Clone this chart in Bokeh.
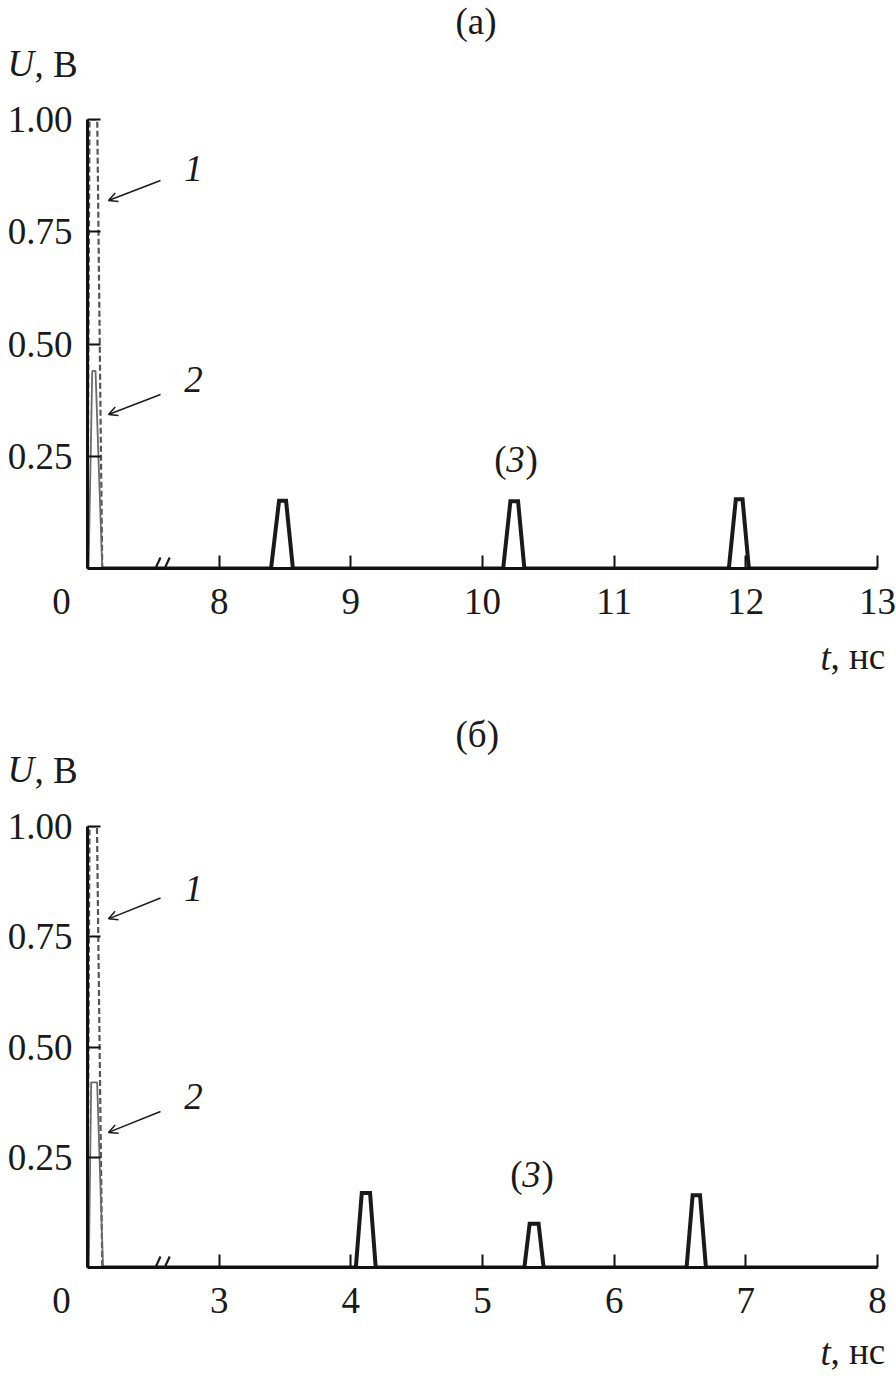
from bokeh.plotting import figure
from bokeh.models import (FixedTicker, Label, Arrow, OpenHead, Range1d,
                          PrintfTickFormatter, Title)
from bokeh.layouts import column
from bokeh.embed import file_html
from bokeh.resources import INLINE

# ---------------- data (t in ns, U in V) ----------------
# panel (a)
a_t1 = [0.0, 0.015, 0.074, 0.112]
a_u1 = [0.0, 1.0, 1.0, 0.0]
a_t2 = [0.008, 0.036, 0.061, 0.112]
a_u2 = [0.0, 0.44, 0.44, 0.0]
a_t3 = [0.112, 8.394, 8.455, 8.508, 8.56, 10.157, 10.212, 10.27, 10.318,
        11.871, 11.924, 11.975, 12.023, 13.0]
a_u3 = [0.0, 0.0, 0.151, 0.151, 0.0, 0.0, 0.15, 0.15, 0.0,
        0.0, 0.154, 0.154, 0.0, 0.0]
a_ticks = [8, 9, 10, 11, 12, 13]
a_gap = 7.0          # ns removed by the axis break

# panel (b)
b_t1 = [0.0, 0.015, 0.072, 0.112]
b_u1 = [0.0, 1.0, 1.0, 0.0]
b_t2 = [0.01, 0.028, 0.073, 0.118]
b_u2 = [0.0, 0.42, 0.42, 0.0]
b_t3 = [0.118, 4.038, 4.083, 4.146, 4.189, 5.318, 5.358, 5.426, 5.464,
        6.55, 6.596, 6.652, 6.697, 8.0]
b_u3 = [0.0, 0.0, 0.169, 0.169, 0.0, 0.0, 0.099, 0.099, 0.0,
        0.0, 0.164, 0.164, 0.0, 0.0]
b_ticks = [3, 4, 5, 6, 7, 8]
b_gap = 2.0

y_ticks = [0.25, 0.5, 0.75, 1.0]

SERIF = "Liberation Serif"
FS = "37px"
INK = "#1a1a1a"
PXU = 131.67   # pixels per ns on the x axis


def shift(ts, gap, limit=1.0):
    return [t + gap if t < limit else t for t in ts]


def make_panel(title, t1, u1, t2, u2, t3, u3, ticks, gap, height, btop,
               fheight, lab):
    x0 = gap
    x1 = ticks[-1]
    ys = float(fheight)
    bbot = height - btop - fheight
    p = figure(width=896, height=height, x_range=Range1d(x0, x1),
               y_range=Range1d(0, 1.0), output_backend="svg",
               toolbar_location=None, min_border_left=87, min_border_right=19,
               min_border_top=btop, min_border_bottom=bbot)
    p.outline_line_color = None
    p.grid.visible = False
    p.background_fill_color = "white"

    p.line(shift(t1, gap), u1, line_color="#555555", line_width=2.2,
           line_dash="6 3")
    p.line(shift(t2, gap), u2, line_color="#6a6a6a", line_width=1.8)
    p.line(shift(t3, gap), u3, line_color=INK, line_width=4,
           line_join="miter")

    for ax in (p.xaxis[0], p.yaxis[0]):
        ax.axis_line_width = 3
        ax.axis_line_color = "#111111"
        ax.major_tick_in = 13
        ax.major_tick_out = 0
        ax.major_tick_line_width = 2
        ax.major_tick_line_color = "#111111"
        ax.minor_tick_line_color = None
        ax.major_label_text_font = SERIF
        ax.major_label_text_font_size = FS
        ax.major_label_text_color = INK
    p.xaxis.ticker = FixedTicker(ticks=[gap] + ticks)
    p.xaxis.major_label_overrides = {gap: "0\u2003\u2009\u2009"}
    p.xaxis.major_label_standoff = 12
    p.yaxis.ticker = FixedTicker(ticks=y_ticks)
    p.yaxis.formatter = PrintfTickFormatter(format="%.2f")
    p.yaxis.major_label_standoff = 15

    def tt(text, offset, standoff, italic=False, valign="bottom"):
        return Title(text=text, align="left", offset=offset, standoff=standoff,
                     vertical_align=valign,
                     text_font=SERIF, text_font_size=FS, text_color=INK,
                     text_font_style="italic" if italic else "normal")

    # texts outside the plotting frame (stacked titles; the negative
    # standoffs put two of them on one line)
    p.add_layout(tt("U", -80, lab["sU"], italic=True), "above")
    p.add_layout(tt(title, 368, lab["sT"]), "above")
    p.add_layout(tt(", В", -53, lab["sB"]), "above")
    s1 = lab["st"]
    p.add_layout(tt("t", 733, s1, italic=True), "below")
    p.add_layout(tt(", нс", 743, -84 - s1, valign="top"), "below")

    def lbl(x, y, text, align="center", italic=False):
        p.add_layout(Label(x=x, y=y, text=text, text_font=SERIF,
                           text_font_size=FS, text_align=align,
                           text_baseline="middle", text_color=INK,
                           text_font_style="italic" if italic else "normal"))

    def px(dx):
        return gap + dx / PXU

    def py(dy):
        return dy / ys

    lbl(px(106), py(lab["n1"]), "1", italic=True)
    lbl(px(106), py(lab["n2"]), "2", italic=True)
    for (yst, yen) in (lab["a1"], lab["a2"]):
        p.add_layout(Arrow(x_start=px(73), y_start=py(yst), x_end=px(21),
                           y_end=py(yen), line_width=1.5, line_color=INK,
                           end=OpenHead(size=9, line_width=1.5,
                                        line_color=INK)))
    cx, cy = lab["c3"]
    lbl(px(cx - 9), py(cy), "(", align="right")
    lbl(px(cx), py(cy), "3", italic=True)
    lbl(px(cx + 10), py(cy), ")", align="left")
    # axis break marks (the part below the frame is not drawn)
    b = px(73)
    for (xs, xe) in ((b - 0.07, b), (b, b + 0.07)):
        p.add_layout(Arrow(x_start=xs, y_start=py(-9), x_end=xe,
                           y_end=py(11), line_width=2.2, line_color=INK,
                           end=None))
    return p


pa = make_panel("(а)", a_t1, a_u1, a_t2, a_u2, a_t3, a_u3, a_ticks, a_gap,
                700, 119, 449,
                dict(sU=72, sT=-74, sB=-160, st=20, n1=400, n2=189,
                     a1=(388, 368), a2=(174, 154), c3=(428, 109)))
pb = make_panel("(б)", b_t1, b_u1, b_t2, b_u2, b_t3, b_u3, b_ticks, b_gap,
                678, 126, 444,
                dict(sU=74, sT=-90, sB=-162, st=12, n1=382, n2=172,
                     a1=(372, 351), a2=(157, 136), c3=(444, 94)))

layout = column(pa, pb, spacing=0)
open("out.html", "w").write(file_html(layout, INLINE))
